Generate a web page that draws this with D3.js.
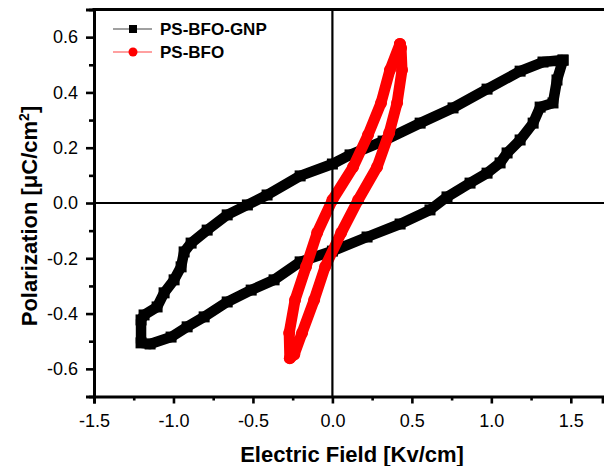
<!DOCTYPE html>
<html>
<head>
<meta charset="utf-8">
<script src="https://cdn.jsdelivr.net/npm/d3@7"></script>
<style>
  body { margin: 0; background: #fff; }
  svg { display: block; font-family: 'Liberation Sans', Arial, sans-serif; }
</style>
</head>
<body>
<svg class="chart"></svg>
<script>
const width = 604
const height = 466
const margin = { top: 9.5, right: 1.4, bottom: 69.5, left: 94 }

// PS-BFO-GNP loop (tip -> upper branch -> lower branch -> tip)
const gnpField = [1.451, 1.325, 1.181, 0.973, 0.759, 0.552, 0.319, 0.111, 0.0, -0.203, -0.411, -0.535,
  -0.662, -0.788, -0.889, -0.933, -0.952, -0.996, -1.059, -1.103, -1.185, -1.204, -1.204,
  -1.147, -1.015, -0.914, -0.807, -0.662, -0.511, -0.367, -0.203, 0.0, 0.218, 0.426, 0.614,
  0.721, 0.866, 0.973, 1.055, 1.099, 1.181, 1.263, 1.307, 1.388, 1.413, 1.451]
const gnpPol = [0.517, 0.510, 0.477, 0.412, 0.344, 0.289, 0.224, 0.174, 0.141, 0.098, 0.029, -0.007,
  -0.043, -0.098, -0.145, -0.177, -0.231, -0.278, -0.325, -0.376, -0.405, -0.423, -0.506,
  -0.510, -0.485, -0.448, -0.412, -0.358, -0.315, -0.278, -0.213, -0.174, -0.123, -0.076, -0.025,
  0.022, 0.072, 0.108, 0.145, 0.181, 0.228, 0.289, 0.347, 0.362, 0.445, 0.517]

// PS-BFO loop
const bfoField = [0.425, 0.362, 0.306, 0.224, 0.130, 0.0, -0.096, -0.166, -0.235, -0.272, -0.268,
  -0.240, -0.191, -0.115, -0.046, 0.055, 0.162, 0.281, 0.357, 0.407, 0.438, 0.432, 0.425]
const bfoPol = [0.575, 0.481, 0.362, 0.246, 0.130, 0.011, -0.108, -0.231, -0.351, -0.470, -0.562,
  -0.548, -0.470, -0.351, -0.231, -0.108, 0.011, 0.130, 0.253, 0.362, 0.481, 0.561, 0.575]

const xTicks = [-1.5, -1.0, -0.5, 0.0, 0.5, 1.0, 1.5]
const xMinor = [-1.25, -0.75, -0.25, 0.25, 0.75, 1.25]
const yTicks = [-0.6, -0.4, -0.2, 0.0, 0.2, 0.4, 0.6]
const yMinor = [-0.7, -0.5, -0.3, -0.1, 0.1, 0.3, 0.5, 0.7]

const series = [
  { name: 'PS-BFO-GNP', color: '#000', legendLine: '#808080', shape: 'square', field: gnpField, pol: gnpPol },
  { name: 'PS-BFO', color: '#ff0000', legendLine: '#ff8080', shape: 'circle', field: bfoField, pol: bfoPol }
]

const x = d3.scaleLinear()
  .domain([-1.5, 1.7])
  .range([margin.left, width - margin.right])

const y = d3.scaleLinear()
  .domain([-0.7, 0.7])
  .range([height - margin.bottom, margin.top])

const svg = d3.select('.chart')
  .attr('width', width)
  .attr('height', height)

const line = d3.line()
  .x(d => x(d[0]))
  .y(d => y(d[1]))

// data loops
series.forEach(s => {
  const pts = s.field.map((f, i) => [f, s.pol[i]])
  const g = svg.append('g')
  g.append('path')
    .datum(pts)
    .attr('fill', 'none')
    .attr('stroke', s.color)
    .attr('stroke-width', s.shape === 'square' ? 10.5 : 11)
    .attr('stroke-linejoin', 'round')
    .attr('d', line)
  if (s.shape === 'square') {
    g.selectAll('rect')
      .data(pts)
      .enter().append('rect')
      .attr('x', d => x(d[0]) - 5.5)
      .attr('y', d => y(d[1]) - 5.5)
      .attr('width', 11)
      .attr('height', 11)
      .attr('fill', s.color)
  } else {
    g.selectAll('circle')
      .data(pts)
      .enter().append('circle')
      .attr('cx', d => x(d[0]))
      .attr('cy', d => y(d[1]))
      .attr('r', 6)
      .attr('fill', s.color)
  }
})

// zero lines
svg.append('line')
  .attr('x1', x(0)).attr('x2', x(0))
  .attr('y1', y(0.7)).attr('y2', y(-0.7))
  .attr('stroke', '#000').attr('stroke-width', 2.2)
svg.append('line')
  .attr('x1', x(-1.5)).attr('x2', width)
  .attr('y1', y(0)).attr('y2', y(0))
  .attr('stroke', '#000').attr('stroke-width', 2.2)

// top frame
svg.append('line')
  .attr('x1', x(-1.5) - 1.5).attr('x2', width)
  .attr('y1', y(0.7)).attr('y2', y(0.7))
  .attr('stroke', '#000').attr('stroke-width', 3)

const fmt = d => d.toFixed(1)

svg.append('g')
  .attr('transform', `translate(${margin.left},0)`)
  .call(d3.axisLeft(y).tickValues(yTicks).tickSize(8).tickPadding(8).tickFormat(fmt))
svg.append('g')
  .attr('transform', `translate(${margin.left},0)`)
  .call(d3.axisLeft(y).tickValues(yMinor).tickSize(5).tickFormat(''))
  .call(g => g.select('.domain').remove())

svg.append('g')
  .attr('transform', `translate(0,${height - margin.bottom})`)
  .call(d3.axisBottom(x).tickValues(xTicks).tickSize(7).tickPadding(11).tickFormat(fmt))
svg.append('g')
  .attr('transform', `translate(0,${height - margin.bottom})`)
  .call(d3.axisBottom(x).tickValues(xMinor).tickSize(4).tickFormat(''))
  .call(g => g.select('.domain').remove())

svg.selectAll('.tick line').attr('stroke', '#000').attr('stroke-width', 2.6)
svg.selectAll('.domain').attr('stroke', '#000').attr('stroke-width', 3)
svg.selectAll('.tick text')
  .attr('fill', '#000')
  .style('font-size', '18px')
  .style('font-family', "'Liberation Sans', Arial, sans-serif")

// axis titles
svg.append('text')
  .attr('x', 352)
  .attr('y', 462)
  .attr('text-anchor', 'middle')
  .style('font-size', '22px')
  .style('font-weight', 'bold')
  .text('Electric Field [Kv/cm]')

const yTitle = svg.append('text')
  .attr('transform', 'translate(37,216) rotate(-90)')
  .attr('text-anchor', 'middle')
  .style('font-size', '22px')
  .style('font-weight', 'bold')
yTitle.append('tspan').text('Polarization [\u03bcC/cm')
yTitle.append('tspan').attr('dy', -8).style('font-size', '14px').text('2')
yTitle.append('tspan').attr('dy', 8).text(']')

// legend
const legend = svg.append('g')
series.forEach((s, i) => {
  const ly = 29 + i * 23
  legend.append('line')
    .attr('x1', 113).attr('x2', 152)
    .attr('y1', ly).attr('y2', ly)
    .attr('stroke', s.legendLine).attr('stroke-width', 1.5)
  if (s.shape === 'square') {
    legend.append('rect')
      .attr('x', 129).attr('y', ly - 4)
      .attr('width', 8).attr('height', 8)
      .attr('fill', s.color)
  } else {
    legend.append('circle')
      .attr('cx', 133).attr('cy', ly)
      .attr('r', 4.5)
      .attr('fill', s.color)
  }
  legend.append('text')
    .attr('x', 160)
    .attr('y', ly + 6)
    .style('font-size', '17px')
    .style('font-weight', 'bold')
    .text(s.name)
})
</script>
</body>
</html>
